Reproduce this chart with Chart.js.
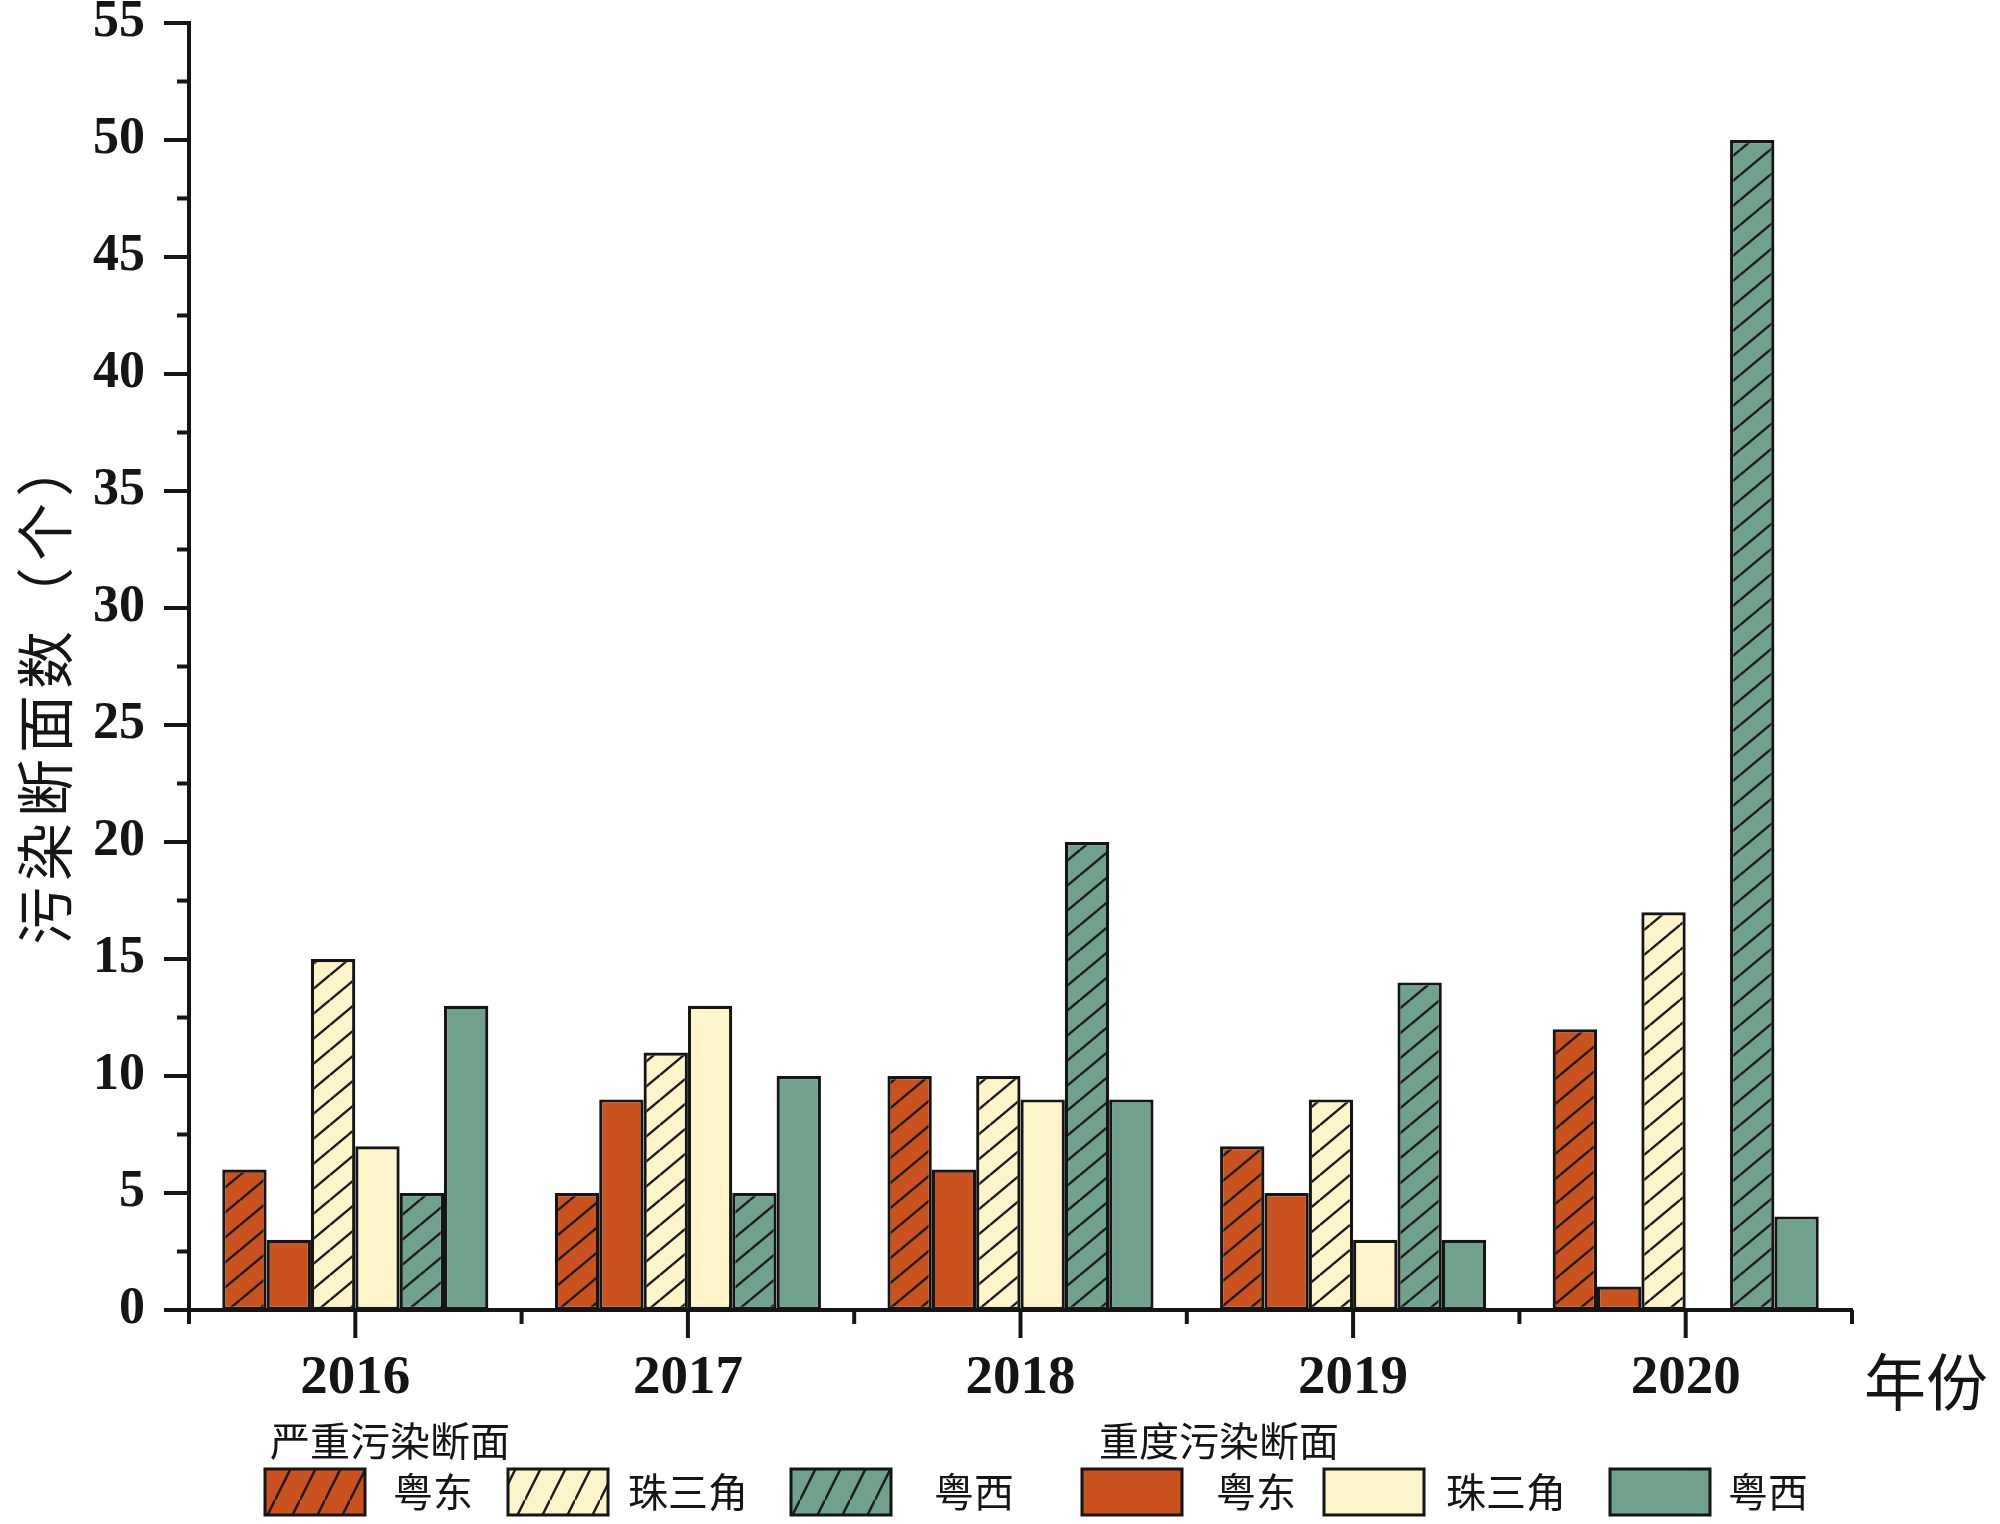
<!DOCTYPE html>
<html>
<head>
<meta charset="utf-8">
<script src="https://cdn.jsdelivr.net/npm/chart.js@4.4.1/dist/chart.umd.min.js"></script>
<style>
    html, body { margin: 0; padding: 0; background: #fff; }
</style>
</head>
<body>
<canvas id="chart" width="2000" height="1524"></canvas>
<script>
// data
const years = ['2016', '2017', '2018', '2019', '2020'];
const severeEast = [6, 5, 10, 7, 12];
const heavyEast = [3, 9, 6, 5, 1];
const severePRD = [15, 11, 10, 9, 17];
const heavyPRD = [7, 13, 9, 3, 0];
const severeWest = [5, 5, 20, 14, 50];
const heavyWest = [13, 10, 9, 3, 4];
const regionNames = ['粤东', '珠三角', '粤西'];
const groupNames = ['严重污染断面', '重度污染断面'];
const yTitle = '污染断面数（个）';
const xTitle = '年份';

const red = '#C9521F';
const cream = '#FDF4C9';
const teal = '#6FA18D';
const ink = '#151515';

function hatch(color, w, h) {
    let c = document.createElement('canvas');
    c.width = w;
    c.height = h;
    let g = c.getContext('2d');
    g.fillStyle = color;
    g.fillRect(0, 0, w, h);
    g.strokeStyle = '#1c1c1c';
    g.lineWidth = 2.4;
    for (let dy = -h; dy <= h; dy += h) {
        g.beginPath();
        g.moveTo(0, h + dy);
        g.lineTo(w, dy);
        g.stroke();
    }
    return g.createPattern(c, 'repeat');
}

function barSet(label, values, color, hatched) {
    return {
        label: label,
        data: values,
        backgroundColor: hatched ? hatch(color, 30, 25) : color,
        legendFill: hatched ? hatch(color, 25, 50) : color,
        borderColor: ink,
        borderWidth: 3.2,
        borderSkipped: false,
        categoryPercentage: 0.8,
        barPercentage: 1.0
    };
}

const datasets = [
    barSet(groupNames[0] + regionNames[0], severeEast, red, true),
    barSet(groupNames[1] + regionNames[0], heavyEast, red, false),
    barSet(groupNames[0] + regionNames[1], severePRD, cream, true),
    barSet(groupNames[1] + regionNames[1], heavyPRD, cream, false),
    barSet(groupNames[0] + regionNames[2], severeWest, teal, true),
    barSet(groupNames[1] + regionNames[2], heavyWest, teal, false)
];

// legend layout: severe group first, then heavy group
const legendOrder = [0, 2, 4, 1, 3, 5];
const legendBoxX = [265, 508, 791, 1082, 1324, 1610];
const legendTextX = [393, 628, 934, 1216, 1446, 1728];
const legendTitleX = [270, 1099];

function line(ctx, x1, y1, x2, y2) {
    ctx.beginPath();
    ctx.moveTo(x1, y1);
    ctx.lineTo(x2, y2);
    ctx.stroke();
}

const decor = {
    id: 'decor',
    afterDraw(chart) {
        const ctx = chart.ctx;
        const a = chart.chartArea;
        const xs = chart.scales.x;
        const ys = chart.scales.y;
        ctx.save();
        ctx.strokeStyle = ink;
        ctx.lineWidth = 4;

        // y ticks, major every 5, minor in between
        ys.ticks.forEach(t => {
            let py = ys.getPixelForValue(t.value);
            let len = t.value % 5 === 0 ? 25 : 12;
            line(ctx, a.left - len, py, a.left, py);
        });

        // x ticks: long at the year, short at the group borders
        for (let i = 0; i < years.length; i++) {
            let px = xs.getPixelForValue(i);
            line(ctx, px, a.bottom, px, a.bottom + 28);
        }
        for (let i = 0; i <= years.length; i++) {
            let px = xs.getPixelForValue(i - 0.5);
            line(ctx, px, a.bottom, px, a.bottom + 14);
        }

        ctx.fillStyle = ink;
        ctx.textBaseline = 'middle';

        // axis titles
        ctx.font = '62px "Noto Sans CJK SC"';
        ctx.textAlign = 'left';
        ctx.fillText(xTitle, 1864, 1382);

        ctx.save();
        ctx.translate(45, 689);
        ctx.rotate(-Math.PI / 2);
        ctx.font = '58px "Noto Sans CJK SC"';
        ctx.letterSpacing = '6px';
        ctx.textAlign = 'center';
        ctx.fillText(yTitle, 0, 0);
        ctx.restore();

        // legend
        ctx.font = '40px "Noto Sans CJK SC"';
        ctx.textAlign = 'left';
        for (let g = 0; g < groupNames.length; g++) {
            ctx.fillText(groupNames[g], legendTitleX[g], 1441);
        }
        ctx.lineWidth = 3;
        for (let k = 0; k < legendOrder.length; k++) {
            let ds = chart.data.datasets[legendOrder[k]];
            let bx = legendBoxX[k];
            let by = 1469;
            ctx.fillStyle = ds.legendFill;
            ctx.fillRect(bx, by, 100, 46);
            ctx.strokeRect(bx, by, 100, 46);
            ctx.fillStyle = ink;
            ctx.fillText(regionNames[k % 3], legendTextX[k], 1492);
        }
        ctx.restore();
    }
};

new Chart(document.getElementById('chart').getContext('2d'), {
    type: 'bar',
    data: {
        labels: years,
        datasets: datasets
    },
    options: {
        responsive: false,
        animation: false,
        devicePixelRatio: 1,
        layout: {
            padding: { top: 23, right: 148, bottom: 104, left: 0 }
        },
        scales: {
            x: {
                grid: { display: false, drawTicks: false },
                border: { color: ink, width: 4 },
                ticks: {
                    color: ink,
                    font: { family: '"Liberation Serif"', size: 55, weight: 'bold', lineHeight: 0.9 },
                    padding: 44
                },
                afterFit: s => {
                    s.height = 110;
                    s.paddingLeft = 0;
                    s.paddingRight = 0;
                }
            },
            y: {
                min: 0,
                max: 55,
                grid: { display: false, drawTicks: false },
                border: { color: ink, width: 4 },
                ticks: {
                    stepSize: 2.5,
                    autoSkip: false,
                    color: ink,
                    font: { family: '"Liberation Serif"', size: 52, weight: 'bold', lineHeight: 0.9 },
                    padding: 44,
                    callback: v => v % 5 === 0 ? v : ''
                },
                afterFit: s => {
                    s.width = 189;
                    s.paddingTop = 0;
                    s.paddingBottom = 0;
                }
            }
        },
        plugins: {
            legend: { display: false },
            tooltip: { enabled: false }
        }
    },
    plugins: [decor]
});
</script>
</body>
</html>
